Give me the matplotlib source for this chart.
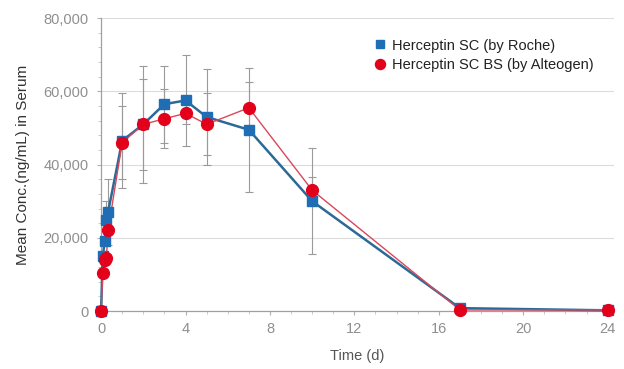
import numpy as np
import matplotlib
matplotlib.use("Agg")
import matplotlib.pyplot as plt
from matplotlib.ticker import MultipleLocator, FuncFormatter

# time points (days)
time_d = [0, 0.08, 0.17, 0.25, 0.33, 1, 2, 3, 4, 5, 7, 10, 17, 24]

# Herceptin SC (by Roche)
roche_mean = [0, 15000, 19000, 25000, 27000, 46500, 51000, 56500, 57500, 53000, 49500, 30000, 800, 200]
roche_sd = [0, 0, 0, 5000, 9000, 13000, 16000, 10500, 12500, 13000, 17000, 14500, 0, 0]

# Herceptin SC BS (by Alteogen)
alteogen_mean = [0, 10500, 14000, 14500, 22000, 46000, 51000, 52500, 54000, 51000, 55500, 33000, 300, 300]
alteogen_sd = [0, 0, 0, 0, 0, 10000, 12500, 8000, 3000, 8500, 7000, 3600, 0, 0]

series_labels = ["Herceptin SC (by Roche)", "Herceptin SC BS (by Alteogen)"]
x_ticks = [0, 4, 8, 12, 16, 20, 24]
y_ticks = [0, 20000, 40000, 60000, 80000]

plt.rcParams['font.family'] = ['Liberation Sans', 'DejaVu Sans']

fig = plt.figure(figsize=(6.24, 3.69), dpi=100)
ax = fig.add_axes([0.162, 0.157, 0.822, 0.794])

grey = '#8f8f8f'
blue = '#1f6db5'
red = '#e3001b'

# error bars
ax.errorbar(time_d, roche_mean, yerr=roche_sd, fmt='none', ecolor='#9a9a9a',
            elinewidth=0.8, capsize=3, capthick=0.8, zorder=2)
ax.errorbar(time_d, alteogen_mean, yerr=alteogen_sd, fmt='none', ecolor='#9a9a9a',
            elinewidth=0.8, capsize=3, capthick=0.8, zorder=2)

# lines
ax.plot(time_d, roche_mean, color='#2b6a96', lw=1.8, zorder=3, clip_on=False)
ax.plot(time_d, alteogen_mean, color='#d9475a', lw=1.0, zorder=3, clip_on=False)

# markers
ax.plot(time_d, roche_mean, ls='none', marker='s', ms=7.5, color=blue, zorder=4,
        clip_on=False, label=series_labels[0])
ax.plot(time_d, alteogen_mean, ls='none', marker='o', ms=8.5, color=red, zorder=5,
        clip_on=False, label=series_labels[1])

ax.set_xlim(0, 24.3)
ax.set_ylim(0, 80000)
ax.set_xticks(x_ticks)
ax.set_yticks(y_ticks)
ax.xaxis.set_minor_locator(MultipleLocator(1))
ax.yaxis.set_minor_locator(MultipleLocator(4000))
ax.yaxis.set_major_formatter(FuncFormatter(lambda v, p: f"{int(v):,}"))

ax.grid(axis='y', color='#dcdcdc', lw=0.8)
ax.set_axisbelow(True)
for s in ['top', 'right']:
    ax.spines[s].set_visible(False)
for s in ['left', 'bottom']:
    ax.spines[s].set_color('#a0a0a0')
    ax.spines[s].set_linewidth(0.9)

ax.tick_params(axis='both', which='major', length=3, color='#b0b0b0',
               labelcolor=grey, labelsize=10.5)
ax.tick_params(axis='both', which='minor', length=2, color='#c0c0c0')
ax.tick_params(axis='x', pad=5)
ax.tick_params(axis='y', pad=6)

ax.set_xlabel('Time (d)', color='#555555', fontsize=10.5, labelpad=9)
ax.set_ylabel('Mean Conc.(ng/mL) in Serum', color='#333333', fontsize=11, labelpad=10)

leg = ax.legend(loc='upper right', bbox_to_anchor=(0.985, 0.975), frameon=False,
                fontsize=10.5, handletextpad=0.2, labelspacing=0.35, markerscale=0.85,
                handlelength=1.2)
for t in leg.get_texts():
    t.set_color('#222222')

fig.savefig('out.png', dpi=100)
